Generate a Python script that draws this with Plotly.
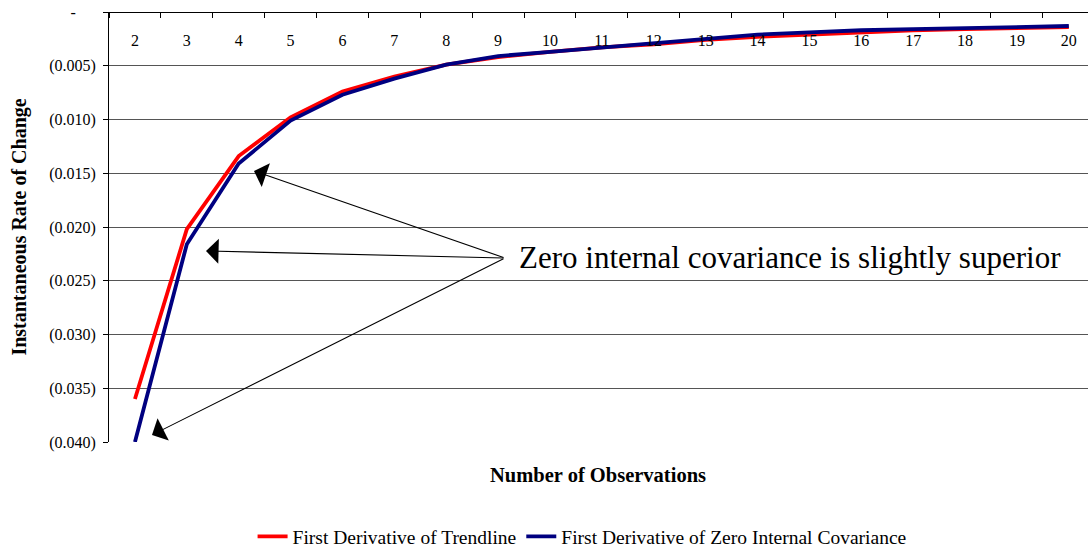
import plotly.graph_objects as go

# Number of observations (category axis)
observations = [2, 3, 4, 5, 6, 7, 8, 9, 10, 11, 12, 13, 14, 15, 16, 17, 18, 19, 20]

# First derivative of the fitted trendline
trendline_deriv = [-0.0360, -0.0202, -0.0134, -0.0098, -0.0074, -0.0060, -0.0049, -0.0042,
                   -0.0037, -0.0033, -0.0030, -0.0026, -0.0023, -0.0021, -0.0019, -0.0017,
                   -0.0016, -0.0015, -0.0014]

# First derivative of the zero-internal-covariance model
zero_cov_deriv = [-0.0400, -0.0216, -0.0141, -0.0101, -0.0077, -0.0062, -0.0049, -0.0041,
                  -0.0037, -0.0033, -0.0029, -0.0025, -0.0021, -0.0019, -0.0017, -0.0016,
                  -0.0015, -0.0014, -0.0013]

y_tick_vals = [0, -0.005, -0.010, -0.015, -0.020, -0.025, -0.030, -0.035, -0.040]
y_tick_text = ["-" + "\u00a0" * 5, "(0.005)", "(0.010)", "(0.015)", "(0.020)", "(0.025)",
               "(0.030)", "(0.035)", "(0.040)"]

x_labels = [str(v) for v in observations]

SERIF = "Liberation Serif, Times New Roman, serif"

fig = go.Figure()
fig.add_trace(go.Scatter(
    x=x_labels, y=trendline_deriv, mode="lines",
    name="First Derivative of Trendline",
    line=dict(color="#FF0000", width=3.8),
))
fig.add_trace(go.Scatter(
    x=x_labels, y=zero_cov_deriv, mode="lines",
    name="First Derivative of Zero Internal Covariance",
    line=dict(color="#000080", width=3.8),
))

# Arrow heads (paper coords) with tails meeting at the callout text
arrow_heads = [(0.1481, 0.6302, 251, 87), (0.0991, 0.4442, 299, 7), (0.0439, 0.0163, 353, -177)]
annotations = []
for hx, hy, tx, ty in arrow_heads:
    annotations.append(dict(
        x=hx, y=hy, xref="paper", yref="paper", text="",
        showarrow=True, arrowhead=1, arrowsize=3.8, arrowwidth=1.1, arrowcolor="black",
        ax=tx, ay=ty, axref="pixel", ayref="pixel", standoff=0,
    ))
annotations.append(dict(
    x=0.4168, y=0.428, xref="paper", yref="paper",
    text="Zero internal covariance is slightly superior",
    showarrow=False, xanchor="left", yanchor="middle",
    font=dict(family=SERIF, size=31, color="black"),
))
annotations.append(dict(
    x=0.4995, y=-0.077, xref="paper", yref="paper",
    text="<b>Number of Observations</b>", showarrow=False,
    xanchor="center", yanchor="middle",
    font=dict(family=SERIF, size=20.5, color="black"),
))

fig.update_layout(
    width=1088, height=550,
    margin=dict(l=109, r=0, t=12, b=108),
    paper_bgcolor="white", plot_bgcolor="white",
    font=dict(family=SERIF, color="black", size=16),
    showlegend=True,
    legend=dict(
        orientation="h", xref="container", yref="container",
        x=0.535, y=0.024, xanchor="center", yanchor="middle",
        font=dict(family=SERIF, size=19.5, color="black"),
        tracegroupgap=0,
    ),
    annotations=annotations,
    xaxis=dict(
        type="category", range=[-0.5, 18.37],
        anchor="free", position=1, side="bottom",
        showline=True, linecolor="black", linewidth=1,
        ticks="outside", ticklen=5, tickcolor="black", tickson="boundaries",
        showgrid=False, zeroline=False,
        tickfont=dict(family=SERIF, size=16, color="black"),
        ticklabelstandoff=14,
        automargin=False,
    ),
    yaxis=dict(
        range=[-0.040, 0], tickvals=y_tick_vals, ticktext=y_tick_text,
        showline=True, linecolor="black", linewidth=1,
        ticks="outside", ticklen=5, tickcolor="black",
        showgrid=True, gridcolor="#555555", gridwidth=1, zeroline=False,
        tickfont=dict(family=SERIF, size=16, color="black"),
        ticklabelstandoff=4,
        automargin=False,
        title=dict(text="<b>Instantaneous Rate of Change</b>", standoff=17,
                   font=dict(family=SERIF, size=20, color="black")),
    ),
)

fig.write_html("out.html")
